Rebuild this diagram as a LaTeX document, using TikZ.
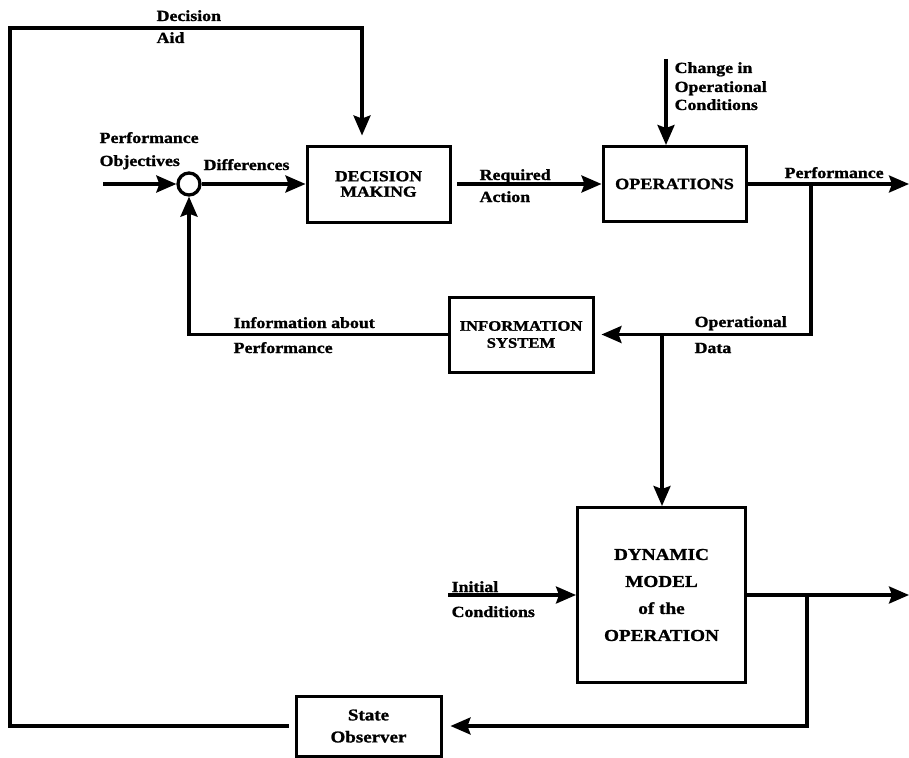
\documentclass[tikz,border=0pt]{standalone}
\usepackage{fontspec}
\setmainfont{Liberation Serif}[FakeStretch=1.15,BoldFeatures={FakeBold=1.2}]
\usetikzlibrary{arrows.meta}
\newcommand{\fs}[2]{\fontsize{#1}{#2}\selectfont\bfseries}
\begin{document}
\begin{tikzpicture}[x=1pt,y=-1pt,
  line width=3.3pt,
  arr/.style={-{Stealth[length=20pt,width=17pt,inset=3pt]}},
  blockbox/.style={draw,line width=3pt,align=center,inner sep=0pt},
  lbl/.style={anchor=base west,inner sep=0pt,font=\fs{15.5}{18}},
  sumcirc/.style={draw,circle,line width=3.3pt,minimum size=22pt,inner sep=0pt}]
\useasboundingbox (0,0) rectangle (909,757);

% blocks
\node[blockbox,minimum width=143pt,minimum height=76pt,font=\fs{15.3}{15.5}] (dm) at (378.5,184) {DECISION\\MAKING};
\node[blockbox,minimum width=143pt,minimum height=75pt,font=\fs{15.8}{18}] (ops) at (674.5,184) {OPERATIONS};
\node[blockbox,minimum width=144pt,minimum height=75pt,font=\fs{14.5}{17}] (info) at (521,334.5) {INFORMATION\\SYSTEM};
\node[blockbox,minimum width=168pt,minimum height=175pt,font=\fs{16.7}{27}] (dyn) at (661.5,595) {DYNAMIC\\MODEL\\of the\\OPERATION};
\node[blockbox,minimum width=145pt,minimum height=60pt,font=\fs{16.5}{22}] (obs) at (368.5,726) {State\\Observer};
\node[sumcirc] (sum) at (189,184) {};

% free ends and branch points
\coordinate (po) at (103,184);
\coordinate (ra) at (457,184);
\coordinate (cin) at (666,59);
\coordinate (pout) at (909,184);
\coordinate (b1) at (811,184);
\coordinate (b2) at (662,334);
\coordinate (ic) at (448,595);
\coordinate (dout) at (909,595);
\coordinate (b3) at (807,595);
\coordinate (lc) at (10,28);
\coordinate (tc) at (362,28);

% connectors
\draw[arr] (po) -- (sum.west);
\draw[arr] (sum.east) -- (dm.west);
\draw[arr] (ra) -- (ops.west);
\draw[arr] (cin) -- (cin |- ops.north);
\draw[arr] (ops.east) -- (pout);
\draw[arr,shorten >=7pt] (b1) |- (info.east);
\draw[arr] (b2) -- (b2 |- dyn.north);
\draw[arr] (info.west) -| (sum.south);
\draw[arr] (ic) -- (dyn.west);
\draw[arr] (dyn.east) -- (dout);
\draw[arr,shorten >=8pt] (b3) |- (obs.east);
\draw[arr,shorten <=6pt,shorten >=9pt] (obs.west) -| (lc) -- (tc) -- (tc |- dm.north);

% labels
\node[lbl] (l1) at (155,21) {Decision};
\node[lbl] (l2) at (155,43) {Aid};
\node[lbl] (l3) at (98,143) {Performance};
\node[lbl] (l4) at (98,166) {Objectives};
\node[lbl] (l5) at (202,170) {Differences};
\node[lbl] (l6) at (478,180) {Required};
\node[lbl] (l7) at (478,202) {Action};
\node[lbl] (l8) at (673,73) {Change in};
\node[lbl] (l9) at (673,92) {Operational};
\node[lbl] (l10) at (673,110) {Conditions};
\node[lbl] (l11) at (783,178) {Performance};
\node[lbl] (l12) at (232,328) {Information about};
\node[lbl] (l13) at (232,353) {Performance};
\node[lbl] (l14) at (693,327) {Operational};
\node[lbl] (l15) at (693,353) {Data};
\node[lbl] (l16) at (450,592) {Initial};
\node[lbl] (l17) at (450,617) {Conditions};
\end{tikzpicture}
\end{document}
